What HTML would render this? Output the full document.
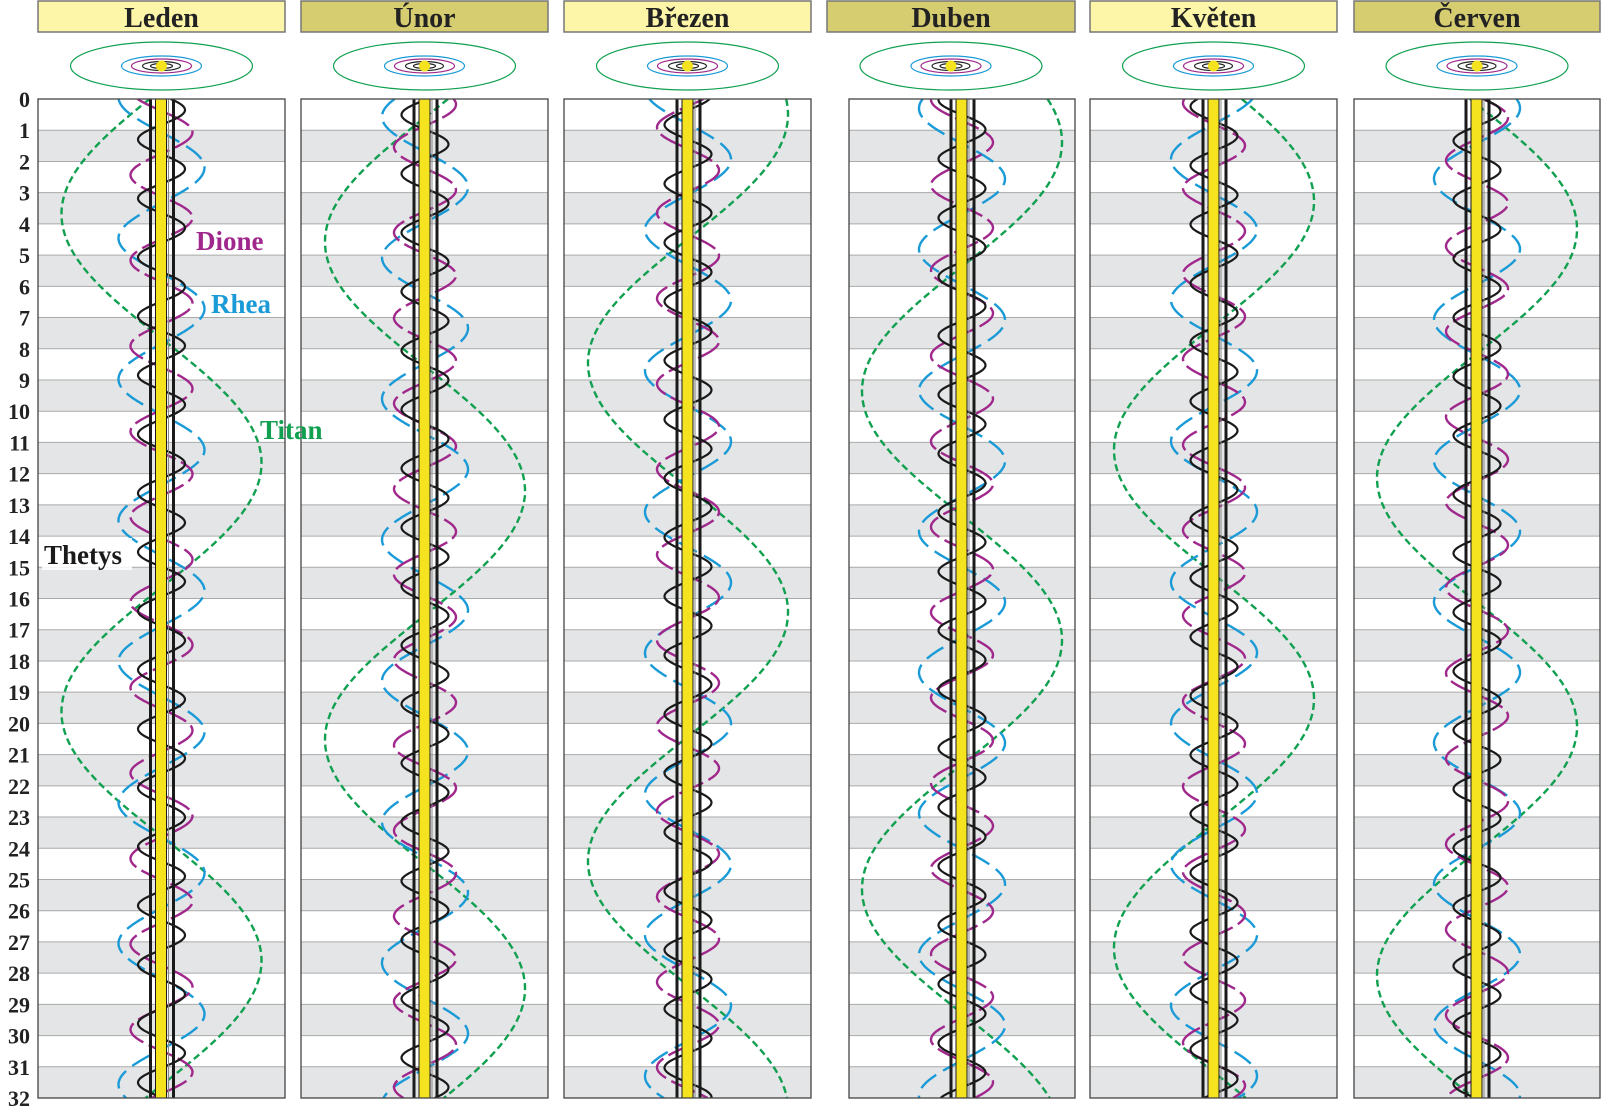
<!DOCTYPE html>
<html><head><meta charset="utf-8">
<style>body{margin:0;background:#fff}svg{display:block}</style></head>
<body>
<svg id="s" width="1602" height="1110" xmlns="http://www.w3.org/2000/svg"></svg>
<script>
const S=document.getElementById('s');
let h='';
const Y0=99,Y1=1098,D=(Y1-Y0)/32;
const panels=[
 {n:'Leden',hx:38,hw:247,bx:38,bw:247,c:161.5,col:'#fdf5a8',off:0},
 {n:'Únor',hx:301,hw:247,bx:301,bw:247,c:425,col:'#d6cc70',off:31},
 {n:'Březen',hx:564,hw:247,bx:564,bw:247,c:688,col:'#fdf5a8',off:59},
 {n:'Duben',hx:827,hw:248,bx:849,bw:226,c:962,col:'#d6cc70',off:90},
 {n:'Květen',hx:1090,hw:247,bx:1090,bw:247,c:1214,col:'#fdf5a8',off:120},
 {n:'Červen',hx:1354,hw:246,bx:1354,bw:246,c:1477,col:'#d6cc70',off:151}];
const moons=[
 {P:15.945,t0:-0.3,A:-100,col:'#10a050',da:'7 4',w:2.4},
 {P:4.518,t0:1.07,A:43,col:'#1a9ad6',da:'20 8',w:2.4},
 {P:2.737,t0:3.12,A:31,col:'#a0288c',da:'26 6',w:2.4},
 {P:1.888,t0:-0.12,A:23.5,col:'#1a1a1a',da:'',w:2.2}];
// day labels
for(let i=0;i<=32;i++){h+=`<text x="30" y="${Y0+i*D+8}" text-anchor="end" font-family="Liberation Serif" font-weight="bold" font-size="22" fill="#222">${i}</text>`;}
panels.forEach((p,k)=>{
 h+=`<rect x="${p.hx}" y="1" width="${p.hw}" height="31" fill="${p.col}" stroke="#777" stroke-width="1.5"/>`;
 h+=`<text x="${p.hx+p.hw/2}" y="27" text-anchor="middle" font-family="Liberation Serif" font-weight="bold" font-size="28" fill="#222">${p.n}</text>`;
 const ex=p.hx+p.hw/2-(k==3?0:0), ey=66;
 h+=`<ellipse cx="${ex}" cy="${ey}" rx="91" ry="24" fill="none" stroke="#10a050" stroke-width="1.2"/>`;
 h+=`<ellipse cx="${ex}" cy="${ey}" rx="40" ry="10" fill="none" stroke="#1a9ad6" stroke-width="1.2"/>`;
 h+=`<ellipse cx="${ex}" cy="${ey}" rx="30" ry="7" fill="none" stroke="#a0288c" stroke-width="1.2"/>`;
 h+=`<ellipse cx="${ex}" cy="${ey}" rx="19" ry="4.5" fill="none" stroke="#222" stroke-width="1.2"/>`;
 h+=`<ellipse cx="${ex}" cy="${ey}" rx="11" ry="2.5" fill="none" stroke="#222" stroke-width="1.2"/>`;
 h+=`<circle cx="${ex}" cy="${ey}" r="5.5" fill="#f5e320"/>`;
 h+=`<clipPath id="c${k}"><rect x="${p.bx}" y="${Y0}" width="${p.bw}" height="${Y1-Y0}"/></clipPath>`;
 h+=`<rect x="${p.bx}" y="${Y0}" width="${p.bw}" height="${Y1-Y0}" fill="#fff"/>`;
 for(let i=1;i<32;i+=2)h+=`<rect x="${p.bx}" y="${Y0+i*D}" width="${p.bw}" height="${D}" fill="#e4e5e6"/>`;
 for(let i=1;i<32;i++)h+=`<line x1="${p.bx}" x2="${p.bx+p.bw}" y1="${Y0+i*D}" y2="${Y0+i*D}" stroke="#aaa" stroke-width="1"/>`;
 h+=`<g clip-path="url(#c${k})">`;
 moons.forEach(m=>{
  let t0=m.t0-p.off; t0=((t0%m.P)+m.P)%m.P;
  let pts=[];
  for(let t=0;t<=32.001;t+=0.04){pts.push((p.c+m.A*Math.sin(2*Math.PI*(t-t0)/m.P)).toFixed(1)+','+(Y0+t*D).toFixed(1));}
  h+=`<polyline points="${pts.join(' ')}" fill="none" stroke="${m.col}" stroke-width="${m.w}" ${m.da?`stroke-dasharray="${m.da}"`:''}/>`;
 });
 h+=`<line x1="${p.c-11}" x2="${p.c-11}" y1="${Y0}" y2="${Y1}" stroke="#1a1a1a" stroke-width="3"/>`;
 h+=`<line x1="${p.c+12}" x2="${p.c+12}" y1="${Y0}" y2="${Y1}" stroke="#1a1a1a" stroke-width="3"/>`;
 h+=`<line x1="${p.c+7}" x2="${p.c+7}" y1="${Y0}" y2="${Y1}" stroke="#888" stroke-width="1"/>`;
 h+=`<rect x="${p.c-6}" y="${Y0}" width="11" height="${Y1-Y0}" fill="#f5e320" stroke="#1a1a1a" stroke-width="1"/>`;
 h+=`</g>`;
 h+=`<rect x="${p.bx}" y="${Y0}" width="${p.bw}" height="${Y1-Y0}" fill="none" stroke="#444" stroke-width="1.3"/>`;
});
const L=(t,x,y,c)=>`<text x="${x}" y="${y}" font-family="Liberation Serif" font-weight="bold" font-size="27" fill="${c}">${t}</text>`;
h+=L('Dione',196,250,'#a0288c')+L('Rhea',211,313,'#1a9ad6')+L('Titan',260,439,'#10a050');
h+=`<rect x="42" y="538" width="90" height="32" fill="#fff" opacity="0.85"/>`+L('Thetys',44,564,'#1a1a1a');
S.innerHTML=h;
</script>
</body></html>
